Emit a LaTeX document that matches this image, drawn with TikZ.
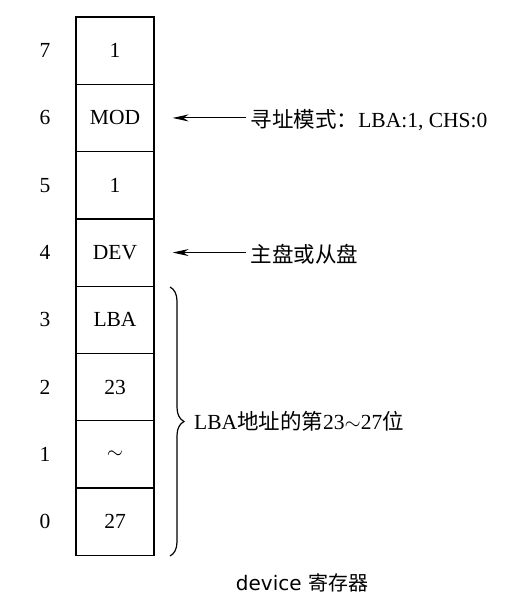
\documentclass[tikz,border=0pt]{standalone}
\usepackage{fontspec}
\setmainfont{Liberation Serif}
\newfontfamily\cjk{Noto Sans CJK SC}
\newfontfamily\capfont{DejaVu Sans}
\usetikzlibrary{decorations.pathreplacing,arrows.meta}
\begin{document}
\begin{tikzpicture}[x=1pt,y=-1pt,
  cell/.style={draw,line width=1.3pt,minimum width=78pt,minimum height=67.3pt,inner sep=0pt,font=\fontsize{21.5}{24}\selectfont},
  idx/.style={font=\fontsize{21.5}{24}\selectfont},
  lbl/.style={anchor=west,inner sep=0pt,font=\fontsize{21.5}{24}\selectfont},
  ptr/.style={-{Stealth[length=16pt,width=7pt]},line width=1pt}]
\useasboundingbox (0,0) rectangle (514,608);
\foreach \i/\t [count=\k from 0] in {7/1,6/MOD,5/1,4/DEV,3/LBA,2/23,1/$\sim$,0/27}{
  \node[cell] (c\i) at (115,{17+67.3*(\k+0.5)}) {\t};
  \node[idx] (n\i) at (45,{17+67.3*(\k+0.5)}) {\i};
}
\node[lbl] (t6) at ([xshift=96pt,yshift=-2pt]c6.east) {{\cjk 寻址模式：}LBA:1, CHS:0};
\node[lbl] (t4) at ([xshift=96pt,yshift=-2pt]c4.east) {{\cjk 主盘或从盘}};
\draw[ptr] ([xshift=91pt]c6.east) coordinate (a6) -- ([xshift=18pt]c6.east);
\draw[ptr] ([xshift=91pt]c4.east) coordinate (a4) -- ([xshift=18pt]c4.east);
\coordinate (b1) at (170,287);
\coordinate (b2) at (170,556);
\draw[line width=1.2pt,decorate,decoration={brace,amplitude=14pt}] (b1) -- (b2);
\node[lbl] (tb) at (194,421) {LBA{\cjk 地址的第}23$\sim$27{\cjk 位}};
\node[font=\capfont\fontsize{20}{22}\selectfont] (cap) at (302,583) {device {\cjk 寄存器}};
\end{tikzpicture}
\end{document}
